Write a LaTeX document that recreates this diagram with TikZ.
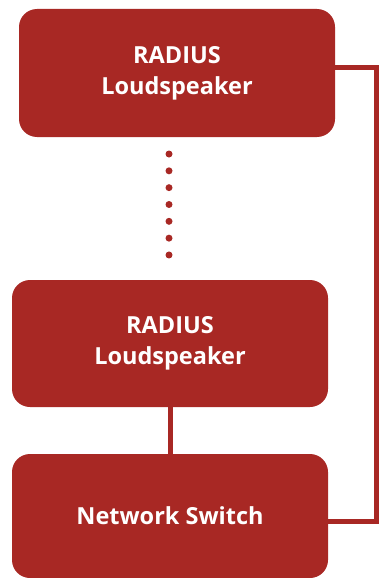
\documentclass[tikz,border=0pt]{standalone}
\usepackage{fontspec}
\setmainfont{Open Sans}
\definecolor{rad}{RGB}{168,40,36}
\begin{document}
\begin{tikzpicture}[x=1pt,y=-1pt,
  box/.style={fill=rad, rounded corners=18pt, text=white, font=\fontsize{23.5}{31}\selectfont\bfseries, align=center, inner sep=0pt, minimum width=316pt},
  wire/.style={draw=rad, line width=5pt},
  dotmark/.style={circle, fill=rad, minimum size=7pt, inner sep=0pt}]
\useasboundingbox (0,0) rectangle (379,578);
\node[box, minimum height=128pt] (s1) at (177,73) {RADIUS\\Loudspeaker};
\node[box, minimum height=127pt] (s2) at (170,343.5) {RADIUS\\Loudspeaker};
\node[box, minimum height=124pt] (sw) at (170,516) {Network Switch};
\foreach \i in {0,...,6} {
  \node[dotmark] (d\i) at (169,{154+16.83*\i}) {};
}
\coordinate (c1) at (376,68);
\coordinate (c2) at (376,521);
\draw[wire] (s2.south) -- (sw.north);
\draw[wire] (c1 -| s1.east) -- (c1) -- (c2) -- (c2 -| sw.east);
\end{tikzpicture}
\end{document}
